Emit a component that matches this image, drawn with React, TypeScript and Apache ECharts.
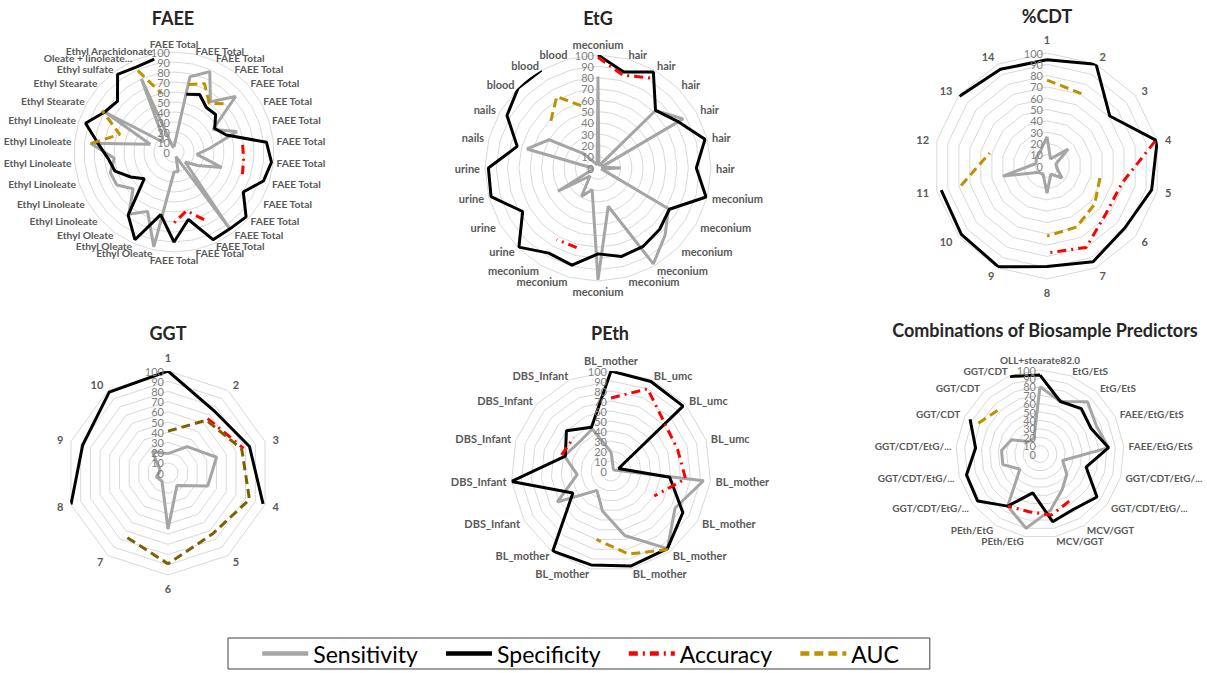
import React, { useEffect, useRef } from 'react';
import * as echarts from 'echarts';

const N = null;

// ---------- FAEE ----------
const faeeLabels = [
  ...Array(16).fill('FAEE Total'),
  'Ethyl Oleate', 'Ethyl Oleate', 'Ethyl Oleate',
  'Ethyl Linoleate', 'Ethyl Linoleate', 'Ethyl Linoleate', 'Ethyl Linoleate', 'Ethyl Linoleate', 'Ethyl Linoleate',
  'Ethyl Stearate', 'Ethyl Stearate', 'Ethyl sulfate', 'Oleate + linoleate...', 'Ethyl Arachidonate',
];
const faeeSens = [5, 77, 88, 62, 83, 45, 66, 36, 23, 50, 27, 15, 94, 5, 20, 20, 97, 65, 77, 55, 66, 67, 60, 84, 25, 79, 15, 20, 80, 5];
const faeeSpec = [N, 59, 63, 55, 56, 47, 55, 93, 98, 94, 80, 97, 95, 96, 69, 90, 64, 96, 78, 40, 50, 62, 66, 76, 93, 80, 76, 96, 93, 95];
const faeeAcc = [N, N, N, N, N, N, N, 69, 70, 72, N, N, N, 74, 60, 71, N, N, N, N, N, N, N, N, N, N, N, N, N, N];
const faeeAuc = [N, 69, 75, 60, 72, N, N, N, N, N, N, N, N, N, N, N, N, N, N, N, N, N, N, 83, 57, 83, N, N, 89, 60];

// ---------- EtG ----------
const etgLabels = [
  'meconium', 'hair', 'hair', 'hair', 'hair', 'hair', 'hair',
  'meconium', 'meconium', 'meconium', 'meconium', 'meconium', 'meconium', 'meconium', 'meconium',
  'urine', 'urine', 'urine', 'urine', 'nails', 'nails', 'blood', 'blood', 'blood',
];
const etgSens = [81, 3, 3, 72, 87, 3, 20, 3, 72, 84, 98, 35, 99, 20, 29, 10, 41, 5, 5, 65, 50, 18, 5, 3];
const etgSpec = [100, 88, 98, 72, 82, 98, 87, 99, 73, 77, 80, 81, 76, 89, 87, 99, 77, 98, 97, 74, 93, 100, 100, N];
const etgAcc = [98, 85, 92, N, N, N, N, N, N, N, N, N, N, 73, 73, N, N, N, N, N, N, N, N, N];
const etgAuc = [N, N, N, N, N, N, N, N, N, N, N, N, N, N, N, N, N, N, N, N, N, 59, 73, 57];

// ---------- %CDT ----------
const cdtLabels = ['1', '2', '3', '4', '5', '6', '7', '8', '9', '10', '11', '12', '13', '14'];
const cdtSens = [26, 7, 24, 8, 9, 17, 8, 24, 8, 9, 40, 10, 12, 14];
const cdtSpec = [94, 100, 71, 100, 95, 88, 94, 89, 99, 97, 96, N, 99, 95];
const cdtAcc = [N, N, N, 98, 68, 67, 80, 77, N, N, N, N, N, N];
const cdtAuc = [76, 71, N, N, 48, 54, 60, 62, N, N, 78, 52, N, N];

// ---------- GGT ----------
const ggtLabels = ['1', '2', '3', '4', '5', '6', '7', '8', '9', '10'];
const ggtSens = [19, 32, 50, 41, 15, 55, 10, 12, 8, 26];
const ggtSpec = [100, 76, 84, 98, N, N, N, 100, 88, 98];
const ggtAcc = [N, 66, 78, N, N, N, N, N, N, N];
const ggtAuc = [41, 64, 76, 84, 74, 89, 75, N, N, N];

// ---------- PEth ----------
const pethLabels = [
  'BL_mother', 'BL_umc', 'BL_umc', 'BL_umc',
  'BL_mother', 'BL_mother', 'BL_mother', 'BL_mother', 'BL_mother', 'BL_mother',
  'DBS_Infant', 'DBS_Infant', 'DBS_Infant', 'DBS_Infant', 'DBS_Infant',
];
const pethSens = [19, 5, 3, 3, 93, 74, 96, 66, 41, 24, 62, 34, 49, 43, 46];
const pethSpec = [100, 98, 97, 8, 59, 83, 96, 97, 96, 99, 44, 100, 48, 60, 48];
const pethAcc = [73, 90, 72, 70, 75, 50, N, N, N, N, N, N, 52, 50, N];
const pethAuc = [N, N, N, N, N, N, 97, 85, 70, N, N, N, N, N, N];

// ---------- Combinations ----------
const combLabels = [
  'OLL+stearate82.0', 'EtG/EtS', 'EtG/EtS', 'FAEE/EtG/EtS', 'FAEE/EtG/EtS',
  'GGT/CDT/EtG/...', 'GGT/CDT/EtG/...', 'MCV/GGT', 'MCV/GGT', 'PEth/EtG', 'PEth/EtG',
  'GGT/CDT/EtG/...', 'GGT/CDT/EtG/...', 'GGT/CDT/EtG/...', 'GGT/CDT', 'GGT/CDT', 'GGT/CDT',
];
const combSens = [80, 67, 84, 75, 82, 28, 40, 50, 68, 90, 73, 30, 46, 46, 38, 20, 20];
const combSpec = [94, 67, 73, 68, 82, 57, 85, 77, 82, 47, 73, 93, 91, 77, 93, N, 99];
const combAcc = [N, N, N, N, N, N, N, 66, 74, 70, 73, N, N, N, N, N, N];
const combAuc = [N, N, N, N, N, N, N, N, N, N, N, N, N, N, 82, 72, N];

const seriesNames = ['Sensitivity', 'Specificity', 'Accuracy', 'AUC'];

type Panel = {
  title: string; tx: number; ty: number; cx: number; cy: number; r: number;
  labels: string[]; values: (number | null)[][]; nameSize: number; nameGap: number; aucColor: string;
};

const panels: Panel[] = [
  { title: 'FAEE', tx: 173, ty: 18, cx: 174, cy: 152, r: 100, labels: faeeLabels, values: [faeeSens, faeeSpec, faeeAcc, faeeAuc], nameSize: 10.3, nameGap: 3, aucColor: '#bf9000' },
  { title: 'EtG', tx: 598, ty: 18, cx: 598, cy: 168, r: 113, labels: etgLabels, values: [etgSens, etgSpec, etgAcc, etgAuc], nameSize: 11, nameGap: 5, aucColor: '#bf9000' },
  { title: '%CDT', tx: 1047, ty: 16, cx: 1047, cy: 166, r: 113, labels: cdtLabels, values: [cdtSens, cdtSpec, cdtAcc, cdtAuc], nameSize: 11, nameGap: 8, aucColor: '#bf9000' },
  { title: 'GGT', tx: 168, ty: 333, cx: 168, cy: 473, r: 102, labels: ggtLabels, values: [ggtSens, ggtSpec, ggtAcc, ggtAuc], nameSize: 11, nameGap: 8, aucColor: '#7f6000' },
  { title: 'PEth', tx: 610, ty: 333, cx: 611, cy: 471, r: 100, labels: pethLabels, values: [pethSens, pethSpec, pethAcc, pethAuc], nameSize: 11, nameGap: 5, aucColor: '#bf9000' },
  { title: 'Combinations of Biosample Predictors', tx: 1045, ty: 330, cx: 1040, cy: 454, r: 84, labels: combLabels, values: [combSens, combSpec, combAcc, combAuc], nameSize: 10, nameGap: 5, aucColor: '#bf9000' },
];

function clockwiseOrder<T>(arr: T[]): T[] {
  return [arr[0], ...arr.slice(1).reverse()];
}

function toPolarData(vals: (number | null)[]) {
  const n = vals.length;
  const d: any[] = vals.map((v, i) => [v == null ? '-' : v, i]);
  d.push([vals[0] == null ? '-' : vals[0], n]);
  return d;
}

export default function App() {
  const ref = useRef<HTMLDivElement>(null);
  useEffect(() => {
    if (!ref.current) return;
    const chart = echarts.init(ref.current, undefined, { renderer: 'svg' });
    const font = 'Lato, "Open Sans", sans-serif';

    const radar = panels.map((p) => ({
      center: [p.cx, p.cy],
      radius: p.r,
      startAngle: 90,
      splitNumber: 10,
      shape: 'polygon',
      nameGap: p.nameGap,
      indicator: clockwiseOrder(p.labels).map((name) => ({ name, min: 0, max: 100 })),
      axisName: { color: '#595959', fontSize: p.nameSize, fontWeight: 'bold', fontFamily: font },
      splitLine: { lineStyle: { color: '#d9d9d9', width: 1 } },
      splitArea: { show: false },
      axisLine: { show: false },
      axisTick: { show: false },
      axisLabel: { show: false },
    }));

    // main polar systems (carry the series + labels 10..90) and overlay ones (labels 0 and 100)
    const polar = [...panels, ...panels].map((p) => ({ center: [p.cx, p.cy], radius: p.r }));
    const angleAxis = [...panels, ...panels].map((p, i) => ({
      polarIndex: i, type: 'value', min: 0, max: p.labels.length, startAngle: 90, clockwise: true, show: false,
    }));
    const labelBase = { color: '#7f7f7f', fontSize: 11, fontFamily: font, margin: 4 };
    const radiusAxis = [...panels, ...panels].map((p, i) => ({
      polarIndex: i, type: 'value', min: 0, max: 100, interval: 10,
      axisLine: { show: false }, axisTick: { show: false }, splitLine: { show: false },
      axisLabel: i < panels.length
        ? { ...labelBase, showMinLabel: false, showMaxLabel: false }
        : {
          ...labelBase, showMinLabel: true, showMaxLabel: true,
          formatter: (v: number) => (v === 0 || v === 100 ? String(v) : ''),
        },
      z: 4,
    }));

    const styles = (p: Panel) => [
      { color: '#a5a5a5', type: 'solid' as any },
      { color: '#000000', type: 'solid' as any },
      { color: '#ff0000', type: [9, 5, 2, 5] as any },
      { color: p.aucColor, type: [9, 5] as any },
    ];

    const series: any[] = [];
    panels.forEach((p, i) => {
      const st = styles(p);
      p.values.forEach((vals, k) => {
        series.push({
          type: 'line',
          name: seriesNames[k],
          coordinateSystem: 'polar',
          polarIndex: i,
          data: toPolarData(vals),
          symbol: 'none',
          showSymbol: false,
          connectNulls: false,
          silent: true,
          z: 3,
          itemStyle: { color: st[k].color },
          lineStyle: { color: st[k].color, width: 3, type: st[k].type },
        });
      });
    });

    const graphic = panels.map((p) => ({
      type: 'text',
      x: p.tx,
      y: p.ty,
      style: {
        text: p.title, align: 'center', verticalAlign: 'middle',
        font: `bold 18px ${font}`, fill: '#262626',
      },
    }));

    chart.setOption({
      animation: false,
      backgroundColor: '#ffffff',
      radar,
      polar,
      angleAxis,
      radiusAxis,
      series,
      graphic,
      legend: {
        data: seriesNames,
        left: 228,
        top: 638,
        padding: [4, 31, 4, 32],
        itemWidth: 46,
        itemHeight: 14,
        itemGap: 26,
        borderColor: '#404040',
        borderWidth: 1,
        textStyle: { fontSize: 23, fontFamily: font, color: '#000' },
        lineStyle: { width: 4.5 },
        itemStyle: { opacity: 0, borderWidth: 0 },
      },
    });
    return () => chart.dispose();
  }, []);
  return <div ref={ref} style={{ position: 'fixed', left: 0, top: 0, width: 1207, height: 673, background: '#fff' }} />;
}
